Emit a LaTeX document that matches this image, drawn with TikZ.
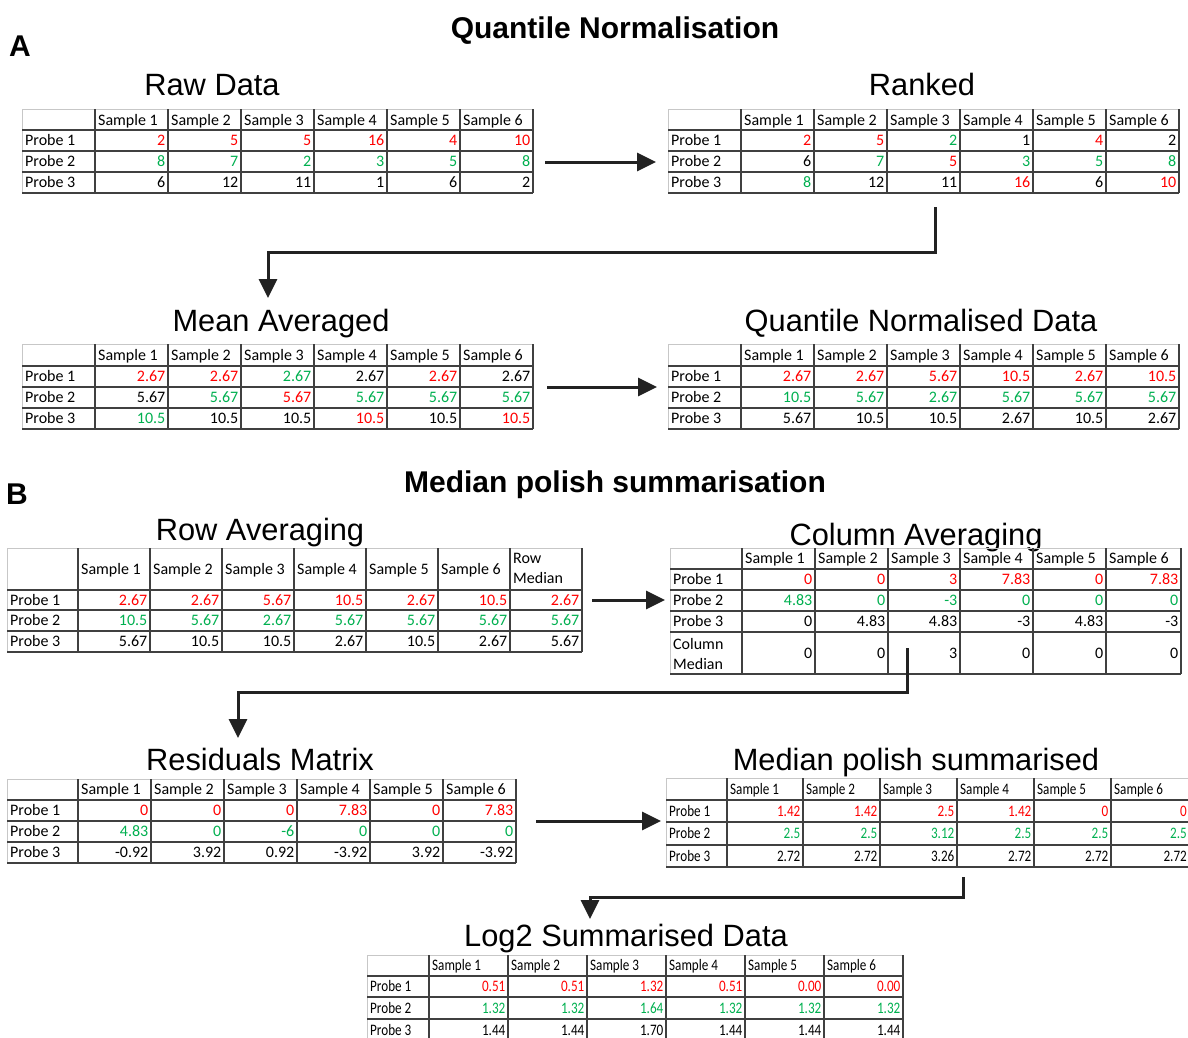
\documentclass[tikz,border=0pt]{standalone}
\usepackage{fontspec}
\setmainfont{Carlito}
\newfontfamily\titlefont{Liberation Sans}
\newfontfamily\condfont[FakeStretch=0.82]{Carlito}
\usetikzlibrary{arrows.meta}
\definecolor{cr}{RGB}{255,0,0}
\definecolor{cg}{RGB}{0,176,80}
\definecolor{ck}{RGB}{0,0,0}
\definecolor{arrowc}{RGB}{34,34,34}
\newcommand\tabfont{\fontsize{16}{19}\selectfont}
\tikzset{
  gridlight/.style={draw=black!22, line width=0.8pt},
  griddark/.style={draw=black!75, line width=1.1pt},
  hdrtxt/.style={anchor=base west, inner sep=0pt, font=\tabfont},
  numtxt/.style={anchor=base east, inner sep=0pt, font=\tabfont},
  ttl/.style={anchor=base, inner sep=0pt, font=\titlefont\fontsize{30.8}{36}\selectfont},
  bttl/.style={anchor=base, inner sep=0pt, font=\titlefont\bfseries\fontsize{30}{36}\selectfont},
  conn/.style={draw=arrowc, line width=3pt, line join=miter, -{Triangle[width=18pt,length=19pt]}},
}
% grid: left, right, top, bottom, verticals (incl. right), horizontals (incl. bottom)
\newcommand\tgrid[6]{%
  \draw[gridlight] (#1,#3) -- (#2,#3);
  \draw[gridlight] (#1,#3) -- (#1,#4);
  \foreach \xx in {#5} {\draw[griddark] (\xx,#3) -- (\xx,#4);}
  \foreach \yy in {#6} {\draw[griddark] (#1,\yy) -- (#2,\yy);}
}
% headers: name, list of left edges, baseline
\newcommand\hrow[3]{%
  \foreach \xl [count=\i] in {#2} {\node[hdrtxt, name=#1h\i] at (\xl+3,#3) {Sample \i};}
}
% data row: name, list of right edges, baseline, entries colour/value
\newcommand\drow[4]{%
  \foreach \c/\v [count=\i from 0] in {#4} {%
    \pgfmathsetmacro\xx{{#2}[\i]}%
    \node[numtxt, text=\c, name=#1c\i] at (\xx-2.5,#3) {\v};%
  }
}
\begin{document}
\begin{tikzpicture}[x=1pt,y=-1pt]
\useasboundingbox (0,0) rectangle (1188,1037);
\fill[white] (0,0) rectangle (1188,1037);
\clip (0,0) rectangle (1188,1037);

% ---------- titles ----------
\node[bttl] (tA) at (615,38) {Quantile Normalisation};
\node[bttl] (lA) at (20,56) {A};
\node[ttl] (tRaw) at (212,95) {Raw Data};
\node[ttl] (tRank) at (922,95) {Ranked};
\node[ttl] (tMean) at (281,331) {Mean Averaged};
\node[ttl] (tQN) at (921,331) {Quantile Normalised Data};
\node[bttl] (tB) at (615,492) {Median polish summarisation};
\node[bttl] (lB) at (17,504) {B};
\node[ttl] (tRow) at (260,540) {Row Averaging};
\node[ttl] (tCol) at (916,545) {Column Averaging};
\node[ttl] (tRes) at (260,770) {Residuals Matrix};
\node[ttl] (tMP) at (916,770) {Median polish summarised};
\node[ttl] (tLog) at (626,946) {Log2 Summarised Data};

% ---------- Raw data ----------
\tgrid{22}{533}{109}{193}{95,168,241,314,387,460,533}{130,151,172,193}
\hrow{raw}{95,168,241,314,387,460}{125}
\node[hdrtxt] (rawp1) at (25,145.5) {Probe 1};
\node[hdrtxt] (rawp2) at (25,166.5) {Probe 2};
\node[hdrtxt] (rawp3) at (25,187.5) {Probe 3};
\drow{rawa}{168,241,314,387,460,533}{145.5}{cr/2,cr/5,cr/5,cr/16,cr/4,cr/10}
\drow{rawb}{168,241,314,387,460,533}{166.5}{cg/8,cg/7,cg/2,cg/3,cg/5,cg/8}
\drow{rawc}{168,241,314,387,460,533}{187.5}{ck/6,ck/12,ck/11,ck/1,ck/6,ck/2}

% ---------- Ranked ----------
\tgrid{668}{1179}{109}{193}{741,814,887,960,1033,1106,1179}{130,151,172,193}
\hrow{rk}{741,814,887,960,1033,1106}{125}
\node[hdrtxt] (rkp1) at (671,145.5) {Probe 1};
\node[hdrtxt] (rkp2) at (671,166.5) {Probe 2};
\node[hdrtxt] (rkp3) at (671,187.5) {Probe 3};
\drow{rka}{814,887,960,1033,1106,1179}{145.5}{cr/2,cr/5,cg/2,ck/1,cr/4,ck/2}
\drow{rkb}{814,887,960,1033,1106,1179}{166.5}{ck/6,cg/7,cr/5,cg/3,cg/5,cg/8}
\drow{rkc}{814,887,960,1033,1106,1179}{187.5}{cg/8,ck/12,ck/11,cr/16,ck/6,cr/10}

% ---------- Mean averaged ----------
\tgrid{22}{533}{344}{429}{95,168,241,314,387,460,533}{366,387,408,429}
\hrow{ma}{95,168,241,314,387,460}{360.5}
\node[hdrtxt] (map1) at (25,381.5) {Probe 1};
\node[hdrtxt] (map2) at (25,402.5) {Probe 2};
\node[hdrtxt] (map3) at (25,423.5) {Probe 3};
\drow{maa}{168,241,314,387,460,533}{381.5}{cr/2.67,cr/2.67,cg/2.67,ck/2.67,cr/2.67,ck/2.67}
\drow{mab}{168,241,314,387,460,533}{402.5}{ck/5.67,cg/5.67,cr/5.67,cg/5.67,cg/5.67,cg/5.67}
\drow{mac}{168,241,314,387,460,533}{423.5}{cg/10.5,ck/10.5,ck/10.5,cr/10.5,ck/10.5,cr/10.5}

% ---------- Quantile normalised ----------
\tgrid{668}{1179}{344}{429}{741,814,887,960,1033,1106,1179}{366,387,408,429}
\hrow{qn}{741,814,887,960,1033,1106}{360.5}
\node[hdrtxt] (qnp1) at (671,381.5) {Probe 1};
\node[hdrtxt] (qnp2) at (671,402.5) {Probe 2};
\node[hdrtxt] (qnp3) at (671,423.5) {Probe 3};
\drow{qna}{814,887,960,1033,1106,1179}{381.5}{cr/2.67,cr/2.67,cr/5.67,cr/10.5,cr/2.67,cr/10.5}
\drow{qnb}{814,887,960,1033,1106,1179}{402.5}{cg/10.5,cg/5.67,cg/2.67,cg/5.67,cg/5.67,cg/5.67}
\drow{qnc}{814,887,960,1033,1106,1179}{423.5}{ck/5.67,ck/10.5,ck/10.5,ck/2.67,ck/10.5,ck/2.67}

% ---------- Row averaging ----------
\tgrid{7}{582}{548}{652}{78,150,222,294,366,438,510,582}{590,610,631,652}
\hrow{ra}{78,150,222,294,366,438}{574}
\node[hdrtxt] (rarow) at (513,563) {Row};
\node[hdrtxt] (ramed) at (513,583) {Median};
\node[hdrtxt] (rap1) at (10,605) {Probe 1};
\node[hdrtxt] (rap2) at (10,625.5) {Probe 2};
\node[hdrtxt] (rap3) at (10,646.5) {Probe 3};
\drow{raa}{150,222,294,366,438,510,582}{605}{cr/2.67,cr/2.67,cr/5.67,cr/10.5,cr/2.67,cr/10.5,cr/2.67}
\drow{rab}{150,222,294,366,438,510,582}{625.5}{cg/10.5,cg/5.67,cg/2.67,cg/5.67,cg/5.67,cg/5.67,cg/5.67}
\drow{rac}{150,222,294,366,438,510,582}{646.5}{ck/5.67,ck/10.5,ck/10.5,ck/2.67,ck/10.5,ck/2.67,ck/5.67}

% ---------- Column averaging ----------
\tgrid{670}{1181}{548}{674}{742,815,888,960,1033,1106,1181}{569,590,611,632,674}
\hrow{ca}{742,815,888,960,1033,1106}{563.5}
\node[hdrtxt] (cap1) at (673,584.5) {Probe 1};
\node[hdrtxt] (cap2) at (673,605.5) {Probe 2};
\node[hdrtxt] (cap3) at (673,626.5) {Probe 3};
\node[hdrtxt] (cacol) at (673,649) {Column};
\node[hdrtxt] (camed) at (673,669) {Median};
\drow{caa}{815,888,960,1033,1106,1181}{584.5}{cr/0,cr/0,cr/3,cr/7.83,cr/0,cr/7.83}
\drow{cab}{815,888,960,1033,1106,1181}{605.5}{cg/4.83,cg/0,cg/-3,cg/0,cg/0,cg/0}
\drow{cac}{815,888,960,1033,1106,1181}{626.5}{ck/0,ck/4.83,ck/4.83,ck/-3,ck/4.83,ck/-3}
\drow{cad}{815,888,960,1033,1106,1181}{658}{ck/0,ck/0,ck/3,ck/0,ck/0,ck/0}

% ---------- Residuals ----------
\tgrid{7}{516}{779}{863}{78,151,224,297,370,443,516}{800,821,842,863}
\hrow{rs}{78,151,224,297,370,443}{794.5}
\node[hdrtxt] (rsp1) at (10,815.5) {Probe 1};
\node[hdrtxt] (rsp2) at (10,836.5) {Probe 2};
\node[hdrtxt] (rsp3) at (10,857.5) {Probe 3};
\drow{rsa}{151,224,297,370,443,516}{815.5}{cr/0,cr/0,cr/0,cr/7.83,cr/0,cr/7.83}
\drow{rsb}{151,224,297,370,443,516}{836.5}{cg/4.83,cg/0,cg/-6,cg/0,cg/0,cg/0}
\drow{rsc}{151,224,297,370,443,516}{857.5}{ck/-0.92,ck/3.92,ck/0.92,ck/-3.92,ck/3.92,ck/-3.92}

% ---------- condensed tables ----------
\renewcommand\tabfont{\condfont\fontsize{16}{19}\selectfont}

% ---------- Median polish summarised ----------
\tgrid{666}{1190}{778}{867}{727,803,880,957,1034,1111,1190}{800,822,845,867}
\hrow{mp}{727,803,880,957,1034,1111}{794}
\node[hdrtxt] (mpp1) at (669,816) {Probe 1};
\node[hdrtxt] (mpp2) at (669,838.5) {Probe 2};
\node[hdrtxt] (mpp3) at (669,861) {Probe 3};
\drow{mpa}{803,880,957,1034,1111,1189.5}{816}{cr/1.42,cr/1.42,cr/2.5,cr/1.42,cr/0,cr/0}
\drow{mpb}{803,880,957,1034,1111,1189.5}{838.5}{cg/2.5,cg/2.5,cg/3.12,cg/2.5,cg/2.5,cg/2.5}
\drow{mpc}{803,880,957,1034,1111,1189.5}{861}{ck/2.72,ck/2.72,ck/3.26,ck/2.72,ck/2.72,ck/2.72}

% ---------- Log2 summarised ----------
\tgrid{367}{903}{955}{1041}{429,508,587,666,745,824,903}{976,997,1019,1041}
\hrow{lg}{429,508,587,666,745,824}{970.5}
\node[hdrtxt] (lgp1) at (370,991.5) {Probe 1};
\node[hdrtxt] (lgp2) at (370,1013) {Probe 2};
\node[hdrtxt] (lgp3) at (370,1035) {Probe 3};
\drow{lga}{508,587,666,745,824,903}{991.5}{cr/0.51,cr/0.51,cr/1.32,cr/0.51,cr/0.00,cr/0.00}
\drow{lgb}{508,587,666,745,824,903}{1013}{cg/1.32,cg/1.32,cg/1.64,cg/1.32,cg/1.32,cg/1.32}
\drow{lgc}{508,587,666,745,824,903}{1035}{ck/1.44,ck/1.44,ck/1.70,ck/1.44,ck/1.44,ck/1.44}

% ---------- connectors ----------
\coordinate (a1s) at (545,162);  \coordinate (a1e) at (656,162);
\coordinate (a2s) at (547,387);  \coordinate (a2e) at (657,387);
\coordinate (a3s) at (592,600);  \coordinate (a3e) at (665,600);
\coordinate (a4s) at (536,821);  \coordinate (a4e) at (661,821);
\coordinate (e1s) at (935,207);  \coordinate (e1e) at (268,298);
\coordinate (e2s) at (907,648);  \coordinate (e2e) at (238,738);
\coordinate (e3s) at (963,877);  \coordinate (e3e) at (590,919);
\draw[conn] (a1s) -- (a1e);
\draw[conn] (a2s) -- (a2e);
\draw[conn] (a3s) -- (a3e);
\draw[conn] (a4s) -- (a4e);
\draw[conn] (e1s) -- ++(0,45) -| (e1e);
\draw[conn] (e2s) -- ++(0,44) -| (e2e);
\draw[conn] (e3s) -- ++(0,20) -| (e3e);
\end{tikzpicture}
\end{document}
